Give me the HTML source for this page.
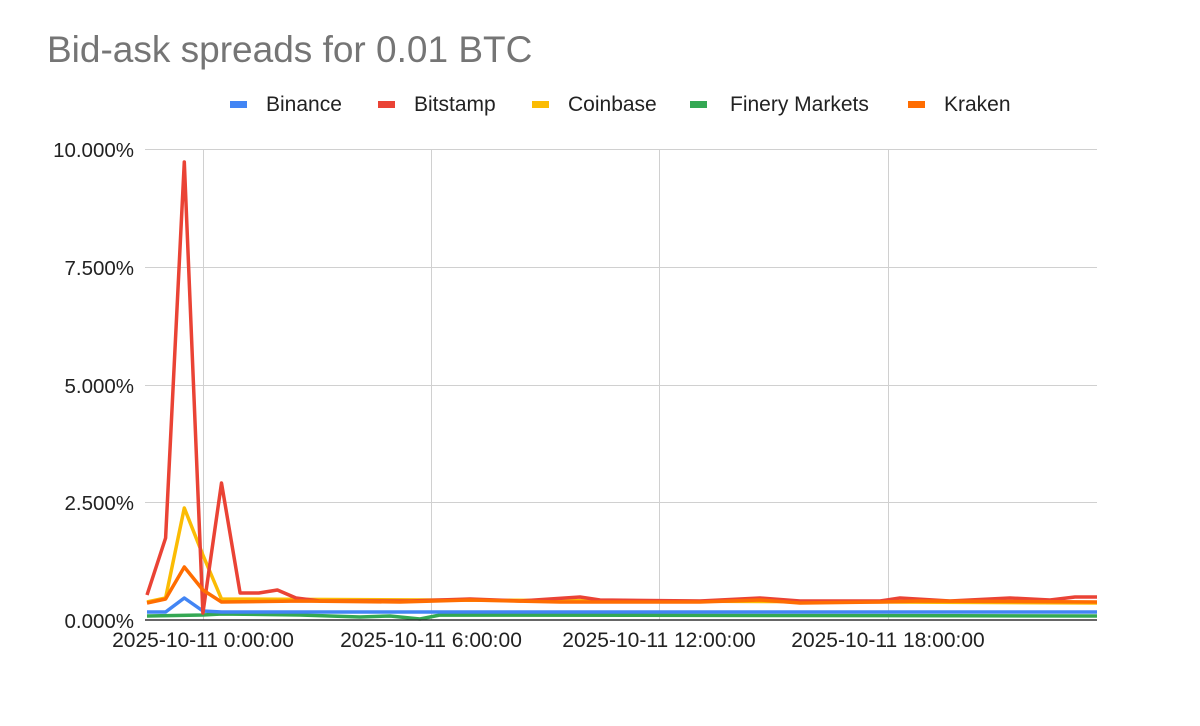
<!DOCTYPE html>
<html><head><meta charset="utf-8"><style>
body{margin:0;background:#fff;}
svg text{font-family:"Liberation Sans",Arial,sans-serif;}
</style></head><body>
<svg width="1200" height="721" viewBox="0 0 1200 721" xmlns="http://www.w3.org/2000/svg">
<rect width="1200" height="721" fill="#fff"/>
<text x="47" y="62" font-size="37" fill="#757575">Bid-ask spreads for 0.01 BTC</text>
<g font-size="21" fill="#222">
<rect x="230" y="101" width="17" height="7" fill="#4285f4"/><text x="266" y="111">Binance</text>
<rect x="378" y="101" width="17" height="7" fill="#ea4335"/><text x="414" y="111">Bitstamp</text>
<rect x="532" y="101" width="17" height="7" fill="#fbbc04"/><text x="568" y="111">Coinbase</text>
<rect x="690" y="101" width="17" height="7" fill="#34a853"/><text x="730" y="111">Finery Markets</text>
<rect x="908" y="101" width="17" height="7" fill="#ff6d01"/><text x="944" y="111">Kraken</text>
</g>
<g stroke="#d0d0d0" stroke-width="1">
<line x1="145" y1="149.5" x2="1097" y2="149.5"/>
<line x1="145" y1="267.5" x2="1097" y2="267.5"/>
<line x1="145" y1="385.5" x2="1097" y2="385.5"/>
<line x1="145" y1="502.5" x2="1097" y2="502.5"/>
<line x1="203.5" y1="149" x2="203.5" y2="620"/>
<line x1="431.5" y1="149" x2="431.5" y2="620"/>
<line x1="659.5" y1="149" x2="659.5" y2="620"/>
<line x1="888.5" y1="149" x2="888.5" y2="620"/>
</g>
<g font-size="20.5" fill="#222" text-anchor="end">
<text x="134" y="157">10.000%</text>
<text x="134" y="275">7.500%</text>
<text x="134" y="393">5.000%</text>
<text x="134" y="510">2.500%</text>
<text x="134" y="628">0.000%</text>
</g>
<g font-size="21" fill="#222" text-anchor="middle">
<text x="203" y="647">2025-10-11 0:00:00</text>
<text x="431" y="647">2025-10-11 6:00:00</text>
<text x="659" y="647">2025-10-11 12:00:00</text>
<text x="888" y="647">2025-10-11 18:00:00</text>
</g>
<g fill="none" stroke-width="3.5" stroke-linejoin="round">
<polyline stroke="#34a853" points="147,616 202.9,615 221.5,614 300,615 360,617 390,616 420,619 440,615 1097,616"/>
<polyline stroke="#4285f4" points="147,612 165.6,612 184.3,598 202.9,611 221.5,612 1097,612"/>
<polyline stroke="#fbbc04" points="147,602 165.6,598 184.3,508 202.9,555 221.5,599 1097,603"/>
<polyline stroke="#ea4335" points="147,595 165.6,538 184.3,162 202.9,613 221.5,483 240.1,593 258.8,593 277.4,590 296,598 320,601 410,601 470,599 520,601 580,597 600,600 700,601 760,598 800,601 880,601 900,598 950,601 1010,598 1050,600 1075,597 1097,597"/>
<polyline stroke="#ff6d01" points="147,603 165.6,599 184.3,567 202.9,590 221.5,602 300,601 400,602 470,600 560,602 700,602 760,600 800,603 880,602 920,601 1097,602"/>
</g>
<line x1="145" y1="620" x2="1097" y2="620" stroke="#333" stroke-width="1.5"/>
</svg>
</body></html>
